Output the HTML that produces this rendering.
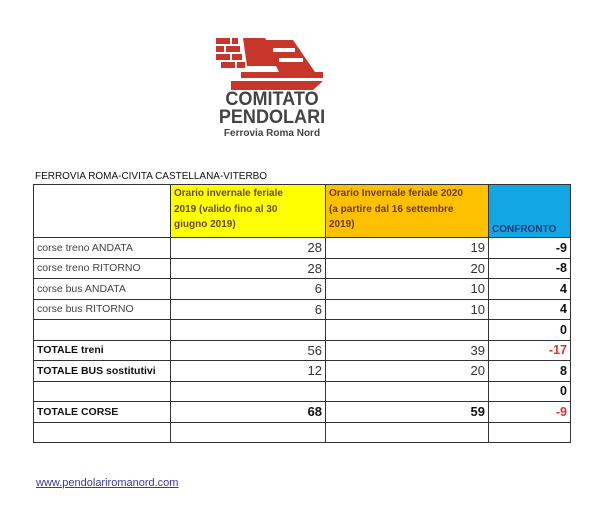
<!DOCTYPE html>
<html><head><meta charset="utf-8"><style>
body{margin:0;width:600px;height:514px;background:#fff;position:relative;overflow:hidden;font-family:"Liberation Sans",sans-serif}
.abs{position:absolute}
table{position:absolute;left:33px;top:184px;border-collapse:collapse;font-size:10.5px;color:#444;table-layout:fixed}
td{border:1.5px solid #333;padding:0 3px;height:19.5px;white-space:nowrap;overflow:hidden}
td.n{text-align:right;font-size:13px;color:#333}
td.c{text-align:right;font-weight:bold;font-size:12.5px;color:#111}
.red{color:#e03030!important}
.b{font-weight:bold;color:#111!important}
</style></head><body>
<svg class="abs" style="left:213px;top:36px" width="115" height="56" viewBox="0 0 115 56">
<g fill="#c8352b">
<rect x="3" y="2" width="14" height="6"/><rect x="19" y="2" width="6" height="6"/>
<rect x="3" y="10" width="8" height="6"/><rect x="13" y="10" width="14" height="6"/>
<rect x="3" y="18" width="14" height="6"/><rect x="19" y="18" width="10" height="6"/>
<rect x="8" y="26" width="14" height="6"/><rect x="24" y="26" width="8" height="6"/>
<polygon points="30,2 52,2 70,30 34,30"/>
<polygon points="50,4 80,4 102,36 66,36"/>
<rect x="28" y="36" width="82" height="6"/>
<polygon points="18,45 110,45 100,54 18,54"/>
</g>
<g fill="#fff"><rect x="60" y="12" width="22" height="4"/><rect x="66" y="22" width="24" height="4"/></g>
</svg>
<div class="abs" style="left:212px;top:91px;width:120px;text-align:center;color:#444;font-weight:bold;font-size:19px;line-height:18px;transform:scaleX(0.95)">COMITATO<br>PENDOLARI</div>
<div class="abs" style="left:212px;top:128px;width:120px;text-align:center;color:#444;font-weight:bold;font-size:10px">Ferrovia Roma Nord</div>
<div class="abs" style="left:35px;top:170px;font-size:10.5px;color:#111;transform:scaleX(0.95);transform-origin:left">FERROVIA ROMA-CIVITA CASTELLANA-VITERBO</div>
<table>
<colgroup><col style="width:137px"><col style="width:155px"><col style="width:163px"><col style="width:82px"></colgroup>
<tr style="height:53px"><td style="height:50px"></td>
<td style="background:#ffff00;vertical-align:top;font-size:10px;line-height:15.5px;color:#6a4a00;font-weight:bold;padding-top:1px">Orario invernale feriale<br>2019 (valido fino al 30<br>giugno 2019)</td>
<td style="background:#ffc000;vertical-align:top;font-size:10px;line-height:15.5px;color:#6a3a00;font-weight:bold;padding-top:1px">Orario Invernale feriale 2020<br>(a partire dal 16 settembre<br>2019)</td>
<td style="background:#12a6e4;vertical-align:bottom;font-size:10px;color:#1a3a6a;font-weight:bold;padding-bottom:2px">CONFRONTO</td></tr>
<tr><td>corse treno ANDATA</td><td class="n">28</td><td class="n">19</td><td class="c">-9</td></tr>
<tr><td>corse treno RITORNO</td><td class="n">28</td><td class="n">20</td><td class="c">-8</td></tr>
<tr><td>corse bus ANDATA</td><td class="n">6</td><td class="n">10</td><td class="c">4</td></tr>
<tr><td>corse bus RITORNO</td><td class="n">6</td><td class="n">10</td><td class="c">4</td></tr>
<tr><td></td><td></td><td></td><td class="c">0</td></tr>
<tr><td class="b">TOTALE treni</td><td class="n">56</td><td class="n">39</td><td class="c red">-17</td></tr>
<tr><td class="b">TOTALE BUS sostitutivi</td><td class="n">12</td><td class="n">20</td><td class="c">8</td></tr>
<tr><td></td><td></td><td></td><td class="c">0</td></tr>
<tr><td class="b">TOTALE CORSE</td><td class="n b">68</td><td class="n b">59</td><td class="c red">-9</td></tr>
<tr><td></td><td></td><td></td><td></td></tr>
</table>
<div class="abs" style="left:36px;top:477px;font-size:11px;color:#3a3aa0;text-decoration:underline">www.pendolariromanord.com</div>
</body></html>
